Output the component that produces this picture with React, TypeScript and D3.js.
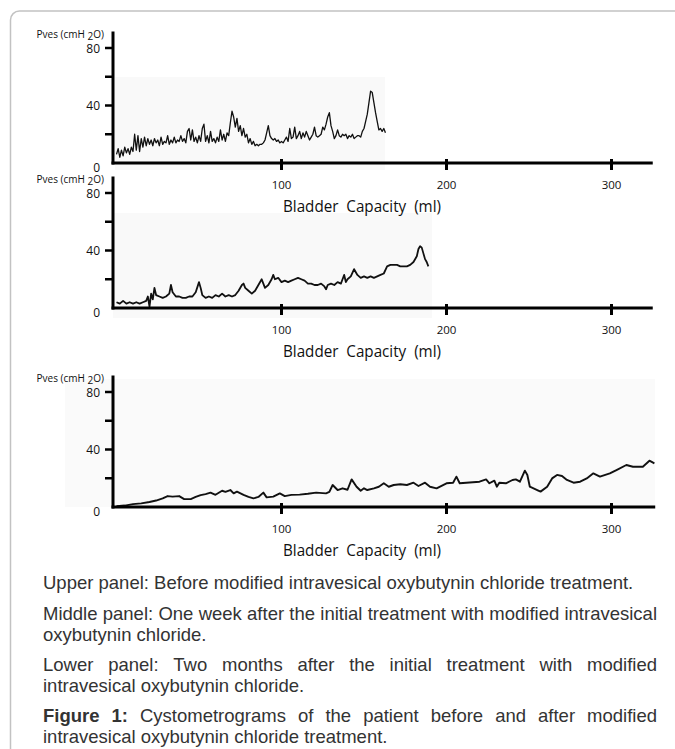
import React from 'react';
import * as d3 from 'd3';

// ---------- data ----------
const X_TICKS = [100, 200, 300];
const Y_TICKS = [20, 40, 60, 80];
const Y_TICK_LABELS = [0, 40, 80];
const X_TITLE = 'Bladder\u00a0\u00a0Capacity\u00a0\u00a0(ml)';

// [bladder volume (ml), Pves (cmH2O)]
const upperTrace: [number, number][] = [
  [0,6],[1,10],[2,4],[3,9],[4,5],[5,11],[6,7],[7,10],[8,6],[9,11],[10,8],[11,20],[12,9],[13,19],[14,8],[15,17],[16,11],[17,18],[18,12],[19,17],[20,13],[21,16],[22,12],[23,17],[24,14],[25,16],[26,12],[27,18],[28,13],[29,15],[30,14],[31,19],[32,13],[33,16],[34,14],[35,18],[36,14],[37,16],[38,15],[39,19],[40,15],[41,17],[42,14],[43,22],[44,24],[45,16],[46,23],[47,15],[48,18],[49,14],[50,19],[51,15],[52,24],[53,27],[54,15],[55,19],[56,14],[57,22],[58,15],[59,17],[60,14],[61,18],[62,15],[63,23],[64,16],[65,20],[66,15],[67,21],[68,19],[69,28],[70,36],[71,32],[72,25],[73,31],[74,22],[75,26],[76,19],[77,24],[78,18],[79,20],[80,14],[81,17],[82,13],[83,15],[84,12],[85,13],[86,12],[87,13],[88,13],[89,14],[90,16],[91,21],[92,26],[93,19],[94,17],[95,16],[96,17],[97,15],[98,16],[99,14],[100,15],[101,14],[102,16],[103,18],[104,15],[105,24],[106,17],[107,18],[108,25],[109,17],[110,19],[111,22],[112,17],[113,21],[114,18],[115,22],[116,19],[117,16],[118,18],[119,20],[120,25],[121,19],[122,18],[123,19],[124,20],[125,25],[126,23],[127,27],[128,32],[129,35],[130,26],[131,22],[132,17],[133,19],[134,23],[135,19],[136,18],[137,20],[138,19],[139,20],[140,17],[141,19],[142,18],[143,20],[144,17],[145,18],[146,19],[147,19],[148,18],[149,22],[150,24],[151,29],[152,34],[153,42],[154,50],[155,49],[156,42],[157,35],[158,29],[159,23],[160,24],[161,22],[162,24],[163,21]
];

const middleTrace: [number, number][] = [
  [0,4],[2,3],[4,5],[6,3],[8,4],[10,3],[12,4],[14,3],[16,4],[18,5],[19,8],[20,1],[21,10],[22,6],[23,14],[24,9],[26,8],[28,7],[30,8],[32,10],[33,16],[34,11],[36,8],[38,8],[40,7],[42,7],[44,8],[46,8],[48,11],[50,18],[51,14],[52,9],[54,7],[56,8],[58,7],[60,9],[62,8],[64,10],[66,8],[68,9],[70,8],[72,9],[74,12],[76,16],[77,17],[78,14],[80,12],[82,10],[84,12],[86,16],[88,20],[89,17],[90,14],[92,16],[94,20],[95,23],[96,20],[98,21],[100,18],[102,19],[104,18],[106,19],[108,20],[110,21],[112,20],[114,19],[116,17],[118,17],[120,16],[122,16],[124,17],[126,15],[127,13],[128,16],[130,17],[132,16],[134,18],[136,17],[137,20],[138,23],[139,18],[140,20],[142,22],[144,27],[146,23],[148,21],[150,22],[152,21],[154,22],[156,21],[158,22],[160,23],[162,24],[164,29],[166,30],[168,30],[170,30],[172,29],[174,29],[176,29],[178,30],[180,32],[182,36],[183,41],[184,43],[185,42],[186,38],[187,34],[188,32],[189,29]
];

const lowerTrace: [number, number][] = [
  [0,0.5],[5,1],[10,2],[15,2.5],[20,3.5],[24,4.5],[28,6],[31,7.6],[34,7.2],[38,7.6],[41,5.5],[45,5.5],[48,7],[51,8.3],[54,9],[57,10],[60,8.5],[64,11.3],[66,10.5],[69,11.8],[71,9.5],[73,10.7],[77,8.4],[80,7],[83,6],[86,7],[89,10],[91,6.7],[95,7.2],[99,9.5],[102,7.6],[106,8.4],[111,8.6],[116,9.2],[121,10],[127,9.5],[129,10.5],[131,15.3],[134,11.8],[137,13],[140,12],[142.5,19.2],[145.5,14.1],[148,11.3],[150,13],[152,11.8],[156,13],[159,14.1],[162,16.5],[165,14.1],[168,15.3],[172,15.8],[176,15.3],[180,16.9],[183,14.6],[187,16.9],[190,14.1],[194,13],[200,16.5],[204,16.9],[206,21.1],[208,16.5],[212,16.9],[220,17.6],[224,19.2],[226,16.5],[229,18.3],[230.5,14.1],[232,16.9],[236,16.5],[240,18.8],[242,19.2],[244.5,17.6],[247.5,25.3],[249,22.3],[250.5,14.1],[255,11.8],[257,10.7],[261,14.1],[264,19.9],[267,22.3],[270,21.6],[273,18.8],[277,16.9],[281,17.6],[285,19.9],[289,23.4],[293,21.1],[299,23.4],[303,25.7],[309,29.2],[313,28],[319,28],[323,32.2],[326,30.4]
];

const CAPTION_LINES = [
  { text: 'Upper panel: Before modified intravesical oxybutynin chloride treatment.', justify: false, bold: 0 },
  { text: 'Middle panel: One week after the initial treatment with modified intravesical', justify: true, bold: 0 },
  { text: 'oxybutynin chloride.', justify: false, bold: 0 },
  { text: 'Lower panel: Two months after the initial treatment with modified', justify: true, bold: 0 },
  { text: 'intravesical oxybutynin chloride.', justify: false, bold: 0 },
  { text: 'Figure 1: Cystometrograms of the patient before and after modified', justify: true, bold: 2 },
  { text: 'intravesical oxybutynin chloride treatment.', justify: false, bold: 0 },
];

// ---------- layout ----------
const W = 675, H = 749;
const PANELS = [
  { trace: upperTrace, base: 163, axisEnd: 325, sw: 1.3, shade: [115, 77, 385, 170], shadeFill: '#f9f9f9' },
  { trace: middleTrace, base: 308, axisEnd: 325, sw: 1.8, shade: [113, 213, 432, 318], shadeFill: '#f9f9f9' },
  { trace: lowerTrace, base: 507, axisEnd: 326.5, sw: 1.9, shade: [65, 379, 655, 507], shadeFill: '#fafafa' },
];
const CAP_LEFT = 43, CAP_RIGHT = 657, CAP_SIZE = 18.5;
const CAP_BASELINES = [589, 620, 641, 671, 692, 722, 743];
const CAP_FONT = '"Liberation Sans", Arial, sans-serif';
const LABEL_FONT = '"Open Sans", "Noto Sans", sans-serif';

const xScale = d3.scaleLinear().domain([0, 300]).range([116.5, 611.5]);

let ctx: CanvasRenderingContext2D | null = null;
function measure(t: string, bold: boolean) {
  if (!ctx) ctx = document.createElement('canvas').getContext('2d');
  if (!ctx) return t.length * CAP_SIZE * 0.5;
  ctx.font = `${bold ? 'bold ' : ''}${CAP_SIZE}px "Liberation Sans"`;
  return ctx.measureText(t).width;
}

function CaptionLine({ line, y }: { line: typeof CAPTION_LINES[number]; y: number }) {
  const words = line.text.split(' ');
  const widths = words.map((w, i) => measure(w, i < line.bold));
  const space = measure(' ', false);
  const sumW = widths.reduce((a, b) => a + b, 0);
  const natural = sumW + space * (words.length - 1);
  const target = CAP_RIGHT - CAP_LEFT;
  let gap = space;
  let sx = 1;
  if (line.justify) {
    if (natural > target) sx = target / natural;
    else gap = (target - sumW) / (words.length - 1);
  }
  let cx = 0;
  const xs = widths.map((w) => { const p = cx; cx += w + gap; return p; });
  return (
    <g transform={`translate(${CAP_LEFT},${y}) scale(${sx},1)`}>
      {words.map((w, i) => (
        <text key={i} x={xs[i]} y={0} fontFamily={CAP_FONT} fontSize={CAP_SIZE}
          fontWeight={i < line.bold ? 'bold' : 'normal'} fill="#333">{w}</text>
      ))}
    </g>
  );
}

function Shade({ p }: { p: typeof PANELS[number] }) {
  return <rect x={p.shade[0]} y={p.shade[1]} width={p.shade[2] - p.shade[0]} height={p.shade[3] - p.shade[1]} fill={p.shadeFill} />;
}

function Panel({ p }: { p: typeof PANELS[number] }) {
  const y = d3.scaleLinear().domain([0, 80]).range([p.base, p.base - 115]);
  const line = d3.line<[number, number]>().x((d) => xScale(d[0])).y((d) => y(d[1]));
  const axisX = 113;
  const top = p.base - 131.5;
  return (
    <g>
      <path d={line(p.trace) || ''} fill="none" stroke="#111" strokeWidth={p.sw} strokeLinejoin="round" />
      {/* y axis */}
      <line x1={axisX} x2={axisX} y1={top} y2={p.base + 1.5} stroke="#000" strokeWidth={3} />
      {Y_TICKS.map((t) => (
        <line key={t} x1={axisX - 8} x2={axisX} y1={y(t)} y2={y(t)} stroke="#000" strokeWidth={2.5} />
      ))}
      {Y_TICK_LABELS.map((t) => (
        <text key={t} x={100} y={t === 0 ? y(t) + 9 : y(t) + 4.5} textAnchor="end" fontFamily={LABEL_FONT} fontSize={12} fill="#111">{t}</text>
      ))}
      <text x={104} y={top + 6} textAnchor="end" fontFamily={LABEL_FONT} fontSize={10} fill="#111">
        Pves (cmH <tspan dy={2}>2</tspan><tspan dy={-2}>O)</tspan>
      </text>
      {/* x axis */}
      <line x1={axisX - 1.5} x2={xScale(p.axisEnd)} y1={p.base} y2={p.base} stroke="#000" strokeWidth={3} />
      {X_TICKS.map((t) => (
        <g key={t}>
          <line x1={xScale(t)} x2={xScale(t)} y1={p.base - 4} y2={p.base + 7} stroke="#000" strokeWidth={3} />
          <text x={xScale(t)} y={p.base + 26} textAnchor="middle" fontFamily={LABEL_FONT} fontSize={11.5} fill="#111">{t}</text>
        </g>
      ))}
      <text x={362} y={p.base + 48.5} textAnchor="middle" fontFamily={LABEL_FONT} fontSize={15.5}
        textLength={158} lengthAdjust="spacingAndGlyphs" fill="#111">{X_TITLE}</text>
    </g>
  );
}

export default function App() {
  return (
    <svg width={W} height={H} style={{ position: 'absolute', left: 0, top: 0, display: 'block' }}>
      <rect x={0} y={0} width={W} height={H} fill="#fff" />
      <rect x={10.5} y={11} width={720} height={800} rx={9} fill="none" stroke="#c2c2c2" strokeWidth={1.5} />
      {PANELS.map((p, i) => <Shade key={i} p={p} />)}
      {PANELS.map((p, i) => <Panel key={i} p={p} />)}
      {CAPTION_LINES.map((l, i) => <CaptionLine key={i} line={l} y={CAP_BASELINES[i]} />)}
    </svg>
  );
}
